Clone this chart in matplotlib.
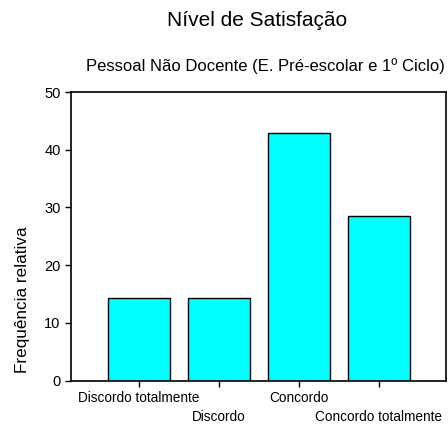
import matplotlib.pyplot as plt

categories = ['Discordo totalmente', 'Discordo', 'Concordo', 'Concordo totalmente']
values = [14.29, 14.29, 42.86, 28.57]
yticks = [0, 10, 20, 30, 40, 50]

plt.rcParams['font.family'] = ['Liberation Sans', 'DejaVu Sans']

fig = plt.figure(figsize=(4.48, 4.26), dpi=100)
ax = fig.add_axes([71 / 448, 45.5 / 426, 375 / 448, 288.5 / 426])

x = list(range(len(categories)))
ax.bar(x, values, width=0.78, color='#00FFFF', edgecolor='black', linewidth=1.0)

ax.set_xlim(-0.85, 3.84)
ax.set_ylim(0, 50)
ax.set_yticks(yticks)
ax.set_yticklabels([str(t) for t in yticks], fontsize=10.5)
ax.set_xticks(x)
ax.set_xticklabels([])
for i, lab in enumerate(categories):
    off = 0.06 if i % 2 == 0 else 0.125
    ax.text(i, -off, lab, transform=ax.get_xaxis_transform(), ha='center', va='center', fontsize=9.8)

ax.tick_params(axis='both', direction='out', length=4, width=1)
for s in ax.spines.values():
    s.set_linewidth(1.2)

fig.text(23 / 448, 1 - 300 / 426, 'Frequência relativa', rotation=90, ha='center', va='center', fontsize=12.3)
fig.text(0.573, 1 - 20 / 426, 'Nível de Satisfação', ha='center', va='center', fontsize=15)
fig.text(0.592, 1 - 66 / 426, 'Pessoal Não Docente (E. Pré-escolar e 1º Ciclo)', ha='center', va='center', fontsize=12)

plt.savefig('out.png', dpi=100)
